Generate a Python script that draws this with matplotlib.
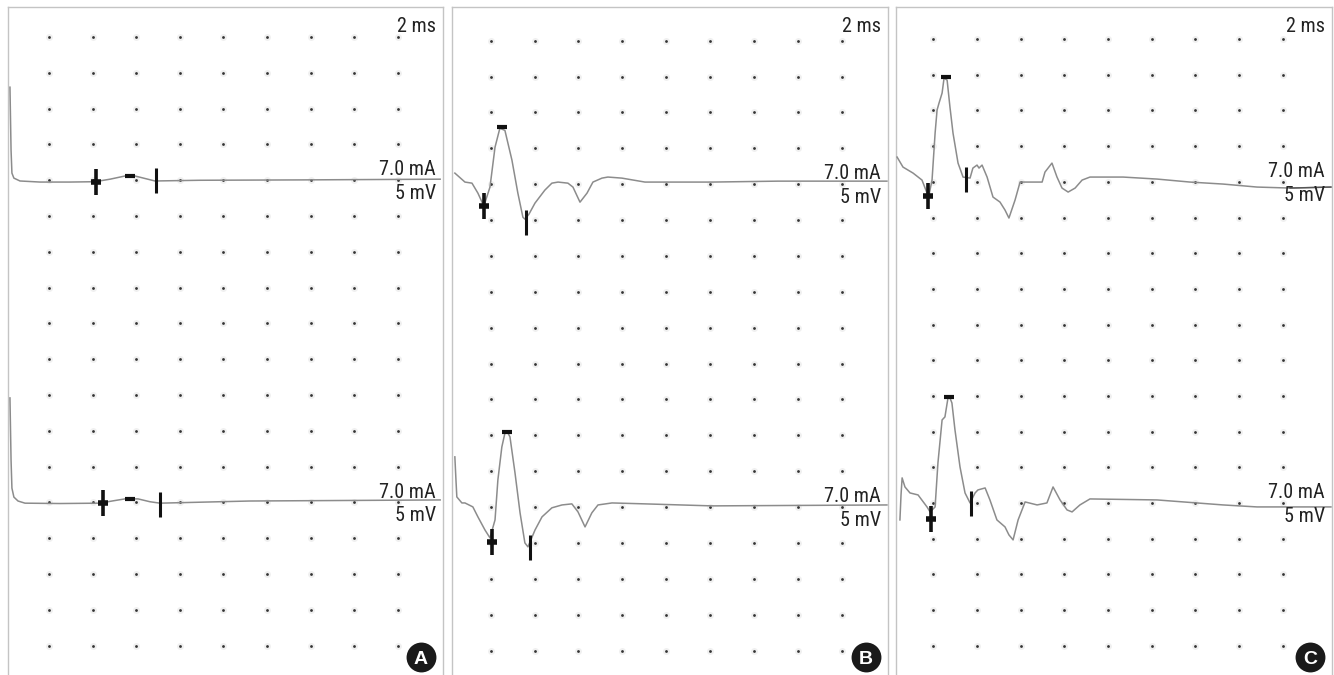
import numpy as np
import matplotlib.pyplot as plt

plt.rcParams['font.family'] = ['Roboto Condensed', 'Liberation Sans', 'DejaVu Sans']

# --- DATA: time in ms (2 ms / division), amplitude in mV relative to trace baseline (5 mV / division) ---
# Panel A
a_top_t = [0.21, 0.26, 0.30, 0.39, 0.67, 1.59, 2.96, 4.11, 4.80, 5.49, 5.94, 6.40, 6.86, 8.93, 13.5, 19.94]
a_top_v = [13.0, 4.2, 1.0, 0.3, -0.1, -0.25, -0.25, -0.2, 0.15, 0.6, 0.6, 0.25, -0.1, 0.0, 0.05, 0.15]
a_top_cur_t = [4.16, 5.72, 6.91]
a_top_cur_v = [-0.2, 0.6, 0.0]

a_bot_t = [0.21, 0.26, 0.30, 0.39, 0.58, 0.90, 2.5, 4.34, 4.89, 5.49, 6.08, 6.63, 7.09, 11.2, 19.94]
a_bot_v = [14.6, 5.9, 2.0, 0.75, 0.2, -0.1, -0.15, -0.1, 0.2, 0.5, 0.5, 0.1, -0.1, 0.2, 0.35]
a_bot_cur_t = [4.48, 5.72, 7.09]
a_bot_cur_v = [-0.1, 0.55, -0.2]

# Panel B
b_top_t = [0.37, 0.83, 1.15, 1.42, 1.69, 1.97, 2.20, 2.42, 2.65, 2.97, 3.24, 3.47, 3.56, 3.74, 4.02,
           4.47, 4.79, 5.07, 5.52, 5.75, 6.07, 6.39, 6.66, 7.07, 7.34, 7.98, 9.03, 12.08, 15.09, 20.05]
b_top_v = [1.55, 0.3, 0.15, -1.24, -3.05, -0.4, 5.17, 7.8, 7.5, 3.36, -1.24, -4.6, -4.86, -4.2, -2.63,
           -0.82, 0.15, 0.3, 0.15, -0.4, -2.5, -1.24, 0.3, 0.85, 1.0, 0.85, 0.3, 0.3, 0.43, 0.43]
b_top_cur_t = [1.69, 2.51, 3.61]
b_top_cur_v = [-3.05, 7.95, -5.2]

b_bot_t = [0.37, 0.42, 0.46, 0.69, 0.83, 1.19, 1.42, 1.74, 1.97, 2.20, 2.33, 2.51, 2.65, 2.79, 2.88,
           3.11, 3.34, 3.56, 3.70, 4.02, 4.34, 4.79, 5.25, 5.70, 5.98, 6.30, 6.61, 6.89, 7.53, 9.03,
           12.08, 20.05]
b_bot_v = [7.0, 3.8, 1.42, 0.58, 0.58, 0.03, -1.36, -3.18, -4.29, -1.78, 3.79, 8.38, 10.3, 10.3, 9.8,
           4.76, -0.8, -4.99, -5.54, -3.2, -1.36, -0.1, 0.3, 0.45, -0.67, -2.76, -0.8, 0.3, 0.58, 0.45,
           0.17, 0.3]
b_bot_cur_t = [2.06, 2.74, 3.79]
b_bot_cur_v = [-4.92, 10.45, -5.6]

# Panel C
c_top_t = [0.34, 0.61, 1.07, 1.48, 1.71, 1.80, 1.94, 2.08, 2.17, 2.26, 2.40, 2.49, 2.63, 2.76, 2.90,
           3.13, 3.36, 3.68, 3.81, 4.00, 4.09, 4.23, 4.46, 4.73, 5.05, 5.28, 5.46, 5.74, 5.97, 6.43,
           6.98, 7.11, 7.43, 7.66, 7.89, 8.17, 8.49, 8.81, 9.17, 10.69, 12.24, 13.75, 15.26, 16.82,
           18.33, 20.2]
c_top_v = [3.47, 2.07, 1.23, 0.25, -1.57, -1.85, 0.25, 6.83, 10.06, 11.04, 12.44, 14.54, 14.26, 10.48, 6.83,
           2.63, 0.67, 0.53, 1.93, 2.35, 1.93, 2.35, 0.67, -2.13, -2.83, -3.95, -5.07, -2.55, -0.03, -0.03,
           -0.03, 1.37, 2.63, 0.67, -0.87, -1.43, -0.87, 0.25, 0.67, 0.67, 0.39, -0.03, -0.31, -0.73,
           -0.87, -0.73]
c_top_cur_t = [1.75, 2.58, 3.50]
c_top_cur_v = [-1.92, 14.68, 0.39]

c_bot_t = [0.47, 0.52, 0.57, 0.70, 0.93, 1.30, 1.71, 1.85, 2.08, 2.21, 2.40, 2.53, 2.67, 2.76, 2.85,
           2.99, 3.22, 3.45, 3.68, 3.91, 4.04, 4.37, 4.59, 4.91, 5.28, 5.46, 5.65, 5.88, 6.20, 6.75,
           7.20, 7.48, 7.80, 8.12, 8.35, 8.71, 9.17, 12.24, 15.26, 16.82, 20.2]
c_bot_v = [-2.37, 1.13, 3.52, 2.25, 1.41, 1.13, -0.55, -1.25, -0.55, 5.62, 11.64, 12.06, 14.72, 14.72, 14.02,
           10.24, 5.06, 1.41, 0.01, 1.41, 1.83, 2.11, 0.43, -2.37, -3.35, -4.47, -5.17, -2.37, 0.15, -0.27,
           0.01, 2.25, 0.43, -0.97, -1.25, -0.27, 0.57, 0.43, -0.27, -0.55, -0.55]
c_bot_cur_t = [1.89, 2.71, 3.73]
c_bot_cur_v = [-2.3, 14.86, -0.06]

panel_letters = ['A', 'B', 'C']
sweep_label = '2 ms'
stim_label = '7.0 mA'
gain_label = '5 mV'

# dot grid: 9 columns every 2 ms, 18 rows every 5 mV; top trace sits on row 4, bottom on row 13
grid_t = np.arange(2, 19, 2)
grid_v = np.arange(0, 86, 5)
top_base, bot_base = 65, 20

panels = [
    (a_top_t, a_top_v, a_top_cur_t, a_top_cur_v, a_bot_t, a_bot_v, a_bot_cur_t, a_bot_cur_v),
    (b_top_t, b_top_v, b_top_cur_t, b_top_cur_v, b_bot_t, b_bot_v, b_bot_cur_t, b_bot_cur_v),
    (c_top_t, c_top_v, c_top_cur_t, c_top_cur_v, c_bot_t, c_bot_v, c_bot_cur_t, c_bot_cur_v),
]

# layout (pixels of the 1334x675 figure) and axis limits of each panel
W, H = 1334, 675
boxes = [(8, 435), (452, 436), (896, 436)]
xlims = [(0.12, 20.07), (0.24, 20.10), (0.29, 20.25)]
ylims = [(-4.1, 89.2), (-3.4, 89.7), (-4.1, 89.5)]


def draw_trace(ax, t, v, base):
    t = np.asarray(t)
    y = base + np.asarray(v)
    ax.plot(t, y, color='#8c8c8c', lw=1.1, zorder=3)
    far = t >= 17.0
    ax.plot(t[far], y[far], color='#555555', lw=1.0, zorder=3)


def draw_cursors(ax, t, v, base):
    k = dict(color='#111111', linestyle='none', zorder=5)
    # onset cross
    ax.plot(t[0], base + v[0], marker='|', ms=18.5, mew=2.6, **k)
    ax.plot(t[0], base + v[0], marker='_', ms=7.0, mew=4.0, **k)
    # peak bar
    ax.plot(t[1], base + v[1], marker='_', ms=7.2, mew=3.0, **k)
    # end line
    ax.plot(t[2], base + v[2], marker='|', ms=18.0, mew=2.2, **k)


fig = plt.figure(figsize=(W / 100, H / 100), dpi=100)

for i, (left, width) in enumerate(boxes):
    ax = fig.add_axes([left / W, 0, width / W, (H - 7) / H])
    ax.set_xlim(*xlims[i])
    ax.set_ylim(*ylims[i])
    ax.set_xticks([])
    ax.set_yticks([])
    for s in ['left', 'right', 'top']:
        ax.spines[s].set_color('#c4c4c4')
        ax.spines[s].set_linewidth(1.0)
    ax.spines['bottom'].set_visible(False)

    gx, gy = np.meshgrid(grid_t, grid_v)
    ax.plot(gx.ravel(), gy.ravel(), 'o', ms=5, color='#f0f0f0', mew=0, zorder=1)
    ax.plot(gx.ravel(), gy.ravel(), 'o', ms=2.0, color='#333333', mew=0, zorder=2)

    tt, tv, tct, tcv, bt, bv, bct, bcv = panels[i]
    draw_trace(ax, tt, tv, top_base)
    draw_trace(ax, bt, bv, bot_base)
    draw_cursors(ax, tct, tcv, top_base)
    draw_cursors(ax, bct, bcv, bot_base)

    xr = 1 - 7 / width
    ax.text(xr, 1 - 25 / (H - 7), sweep_label, transform=ax.transAxes,
            ha='right', va='baseline', fontsize=14.5, color='#222222', zorder=6)
    for base in (top_base, bot_base):
        ax.annotate(stim_label, xy=(xr, base), xycoords=('axes fraction', 'data'),
                    xytext=(0, 3.5), textcoords='offset points',
                    ha='right', va='baseline', fontsize=14.5, color='#222222', zorder=6)
        ax.annotate(gain_label, xy=(xr, base), xycoords=('axes fraction', 'data'),
                    xytext=(0, -13.5), textcoords='offset points',
                    ha='right', va='baseline', fontsize=14.5, color='#222222', zorder=6)

    # panel letter badge
    cx, cy = 1 - 22 / width, 18.3 / (H - 7)
    ax.plot(cx, cy, 'o', transform=ax.transAxes, ms=21.5, color='#1a1a1a', mew=0, zorder=7)
    ax.text(cx, cy - 7 / (H - 7), panel_letters[i], transform=ax.transAxes,
            ha='center', va='baseline', fontsize=14, fontweight='bold', color='white',
            family=['Liberation Sans', 'DejaVu Sans'], zorder=8)

plt.savefig('out.png', dpi=100)
